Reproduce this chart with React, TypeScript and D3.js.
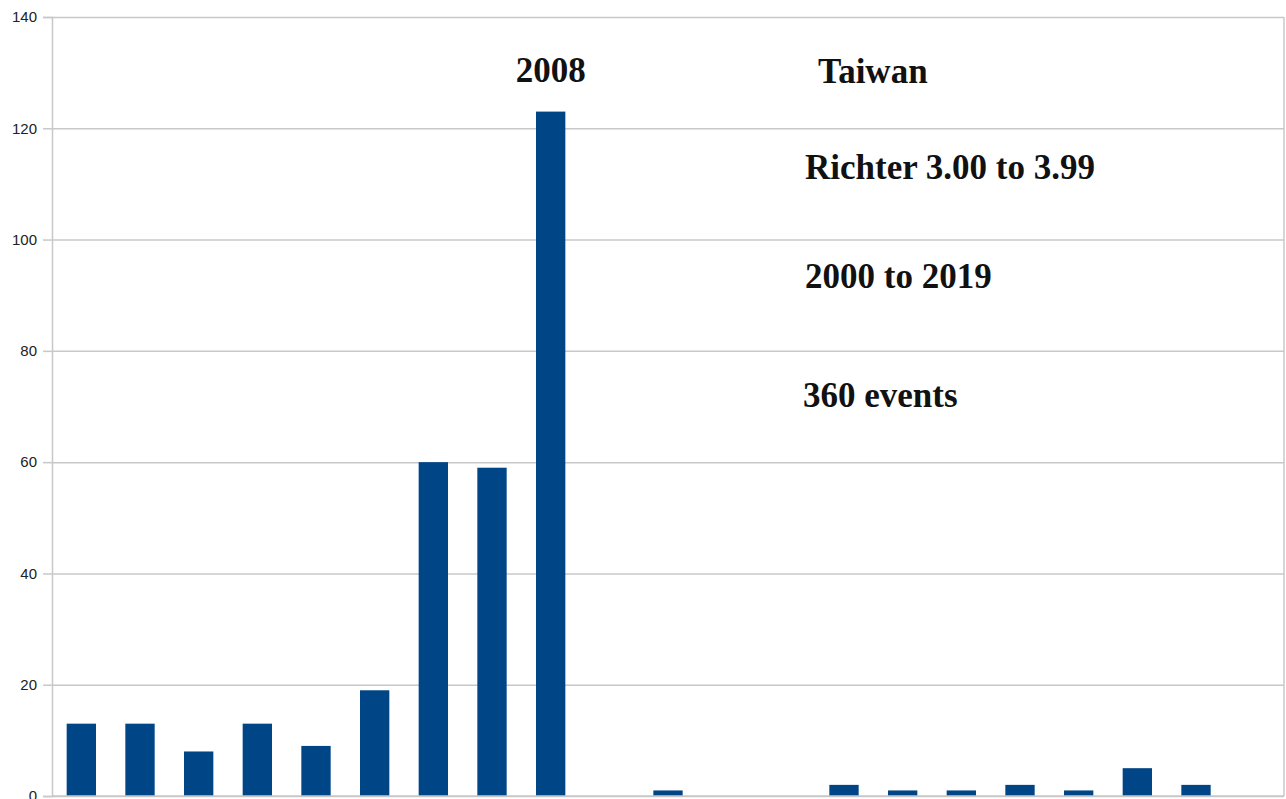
import { useEffect, useRef } from 'react'
import * as d3 from 'd3'

// Years on the x axis (last band is empty in the original chart)
const years = [
  '2000', '2001', '2002', '2003', '2004', '2005', '2006', '2007', '2008', '2009',
  '2010', '2011', '2012', '2013', '2014', '2015', '2016', '2017', '2018', '2019', '2020',
]
const counts = [13, 13, 8, 13, 9, 19, 60, 59, 123, 0, 1, 0, 0, 2, 1, 1, 2, 1, 5, 2, 0]
const yTicks = [0, 20, 40, 60, 80, 100, 120, 140]
const notes = ['Taiwan', 'Richter 3.00 to 3.99', '2000 to 2019', '360 events']
const peakLabel = '2008'

const W = 1286
const H = 799
const BAR = '#004586'
const GRID = '#c8c8c8'

export default function App() {
  const ref = useRef<SVGSVGElement>(null)

  useEffect(() => {
    document.body.style.margin = '0'
    if (!ref.current) return
    d3.select(ref.current).selectAll('*').remove()
    render(ref.current)
  }, [])

  return <svg ref={ref} width={W} height={H} style={{ display: 'block', background: '#fff' }} />
}

function render(el: SVGSVGElement) {
  const margin = { top: 17, right: 2, bottom: 3, left: 52 }
  const inner = { w: W - margin.left - margin.right, h: H - margin.top - margin.bottom }

  const svg = d3.select(el)
  const g = svg.append('g').attr('transform', `translate(${margin.left},${margin.top})`)

  const x = d3.scaleBand().domain(years).range([0, inner.w]).paddingInner(0.5).paddingOuter(0.25)
  const y = d3.scaleLinear().domain([0, 140]).range([inner.h, 0])

  // Grid
  g.append('g')
    .call(d3.axisLeft(y).tickValues(yTicks).tickSize(-inner.w).tickFormat(() => ''))
    .call((sel) => sel.select('.domain').remove())
    .call((sel) => sel.selectAll('line').attr('stroke', GRID).attr('stroke-width', 1.5))

  // Right border
  g.append('line')
    .attr('x1', inner.w).attr('x2', inner.w)
    .attr('y1', 0).attr('y2', inner.h)
    .attr('stroke', GRID).attr('stroke-width', 1.5)

  // Bars
  g.selectAll('rect.bar')
    .data(years.map((yr, i) => ({ yr, v: counts[i] })).filter((d) => d.v > 0))
    .join('rect')
    .attr('class', 'bar')
    .attr('x', (d) => x(d.yr)!)
    .attr('width', x.bandwidth())
    .attr('y', (d) => y(d.v))
    .attr('height', (d) => inner.h - y(d.v))
    .attr('fill', BAR)

  // Y axis
  g.append('g')
    .call(d3.axisLeft(y).tickValues(yTicks).tickSize(9).tickPadding(6))
    .call((sel) => sel.select('.domain').attr('stroke', GRID).attr('stroke-width', 1.5))
    .call((sel) => sel.selectAll('line').attr('stroke', GRID).attr('stroke-width', 1.5))
    .call((sel) =>
      sel.selectAll('text')
        .attr('font-family', '"Liberation Sans", Arial, sans-serif')
        .attr('font-size', 15)
        .attr('fill', '#222')
    )

  // X axis line
  g.append('line')
    .attr('x1', 0).attr('x2', inner.w)
    .attr('y1', inner.h).attr('y2', inner.h)
    .attr('stroke', GRID).attr('stroke-width', 1.5)

  const serif = '"Liberation Serif", "Times New Roman", serif'

  // Peak label
  g.append('text')
    .attr('x', x(peakLabel)! + x.bandwidth() / 2)
    .attr('y', 82 - margin.top)
    .attr('text-anchor', 'middle')
    .attr('font-family', serif)
    .attr('font-weight', 'bold')
    .attr('font-size', 35)
    .attr('fill', '#111')
    .text(peakLabel)

  // Notes
  const noteX = [818, 805, 805, 803]
  const noteY = [83, 179, 288, 407]
  notes.forEach((t, i) => {
    svg.append('text')
      .attr('x', noteX[i])
      .attr('y', noteY[i])
      .attr('font-family', serif)
      .attr('font-weight', 'bold')
      .attr('font-size', 35)
      .attr('fill', '#111')
      .text(t)
  })
}
